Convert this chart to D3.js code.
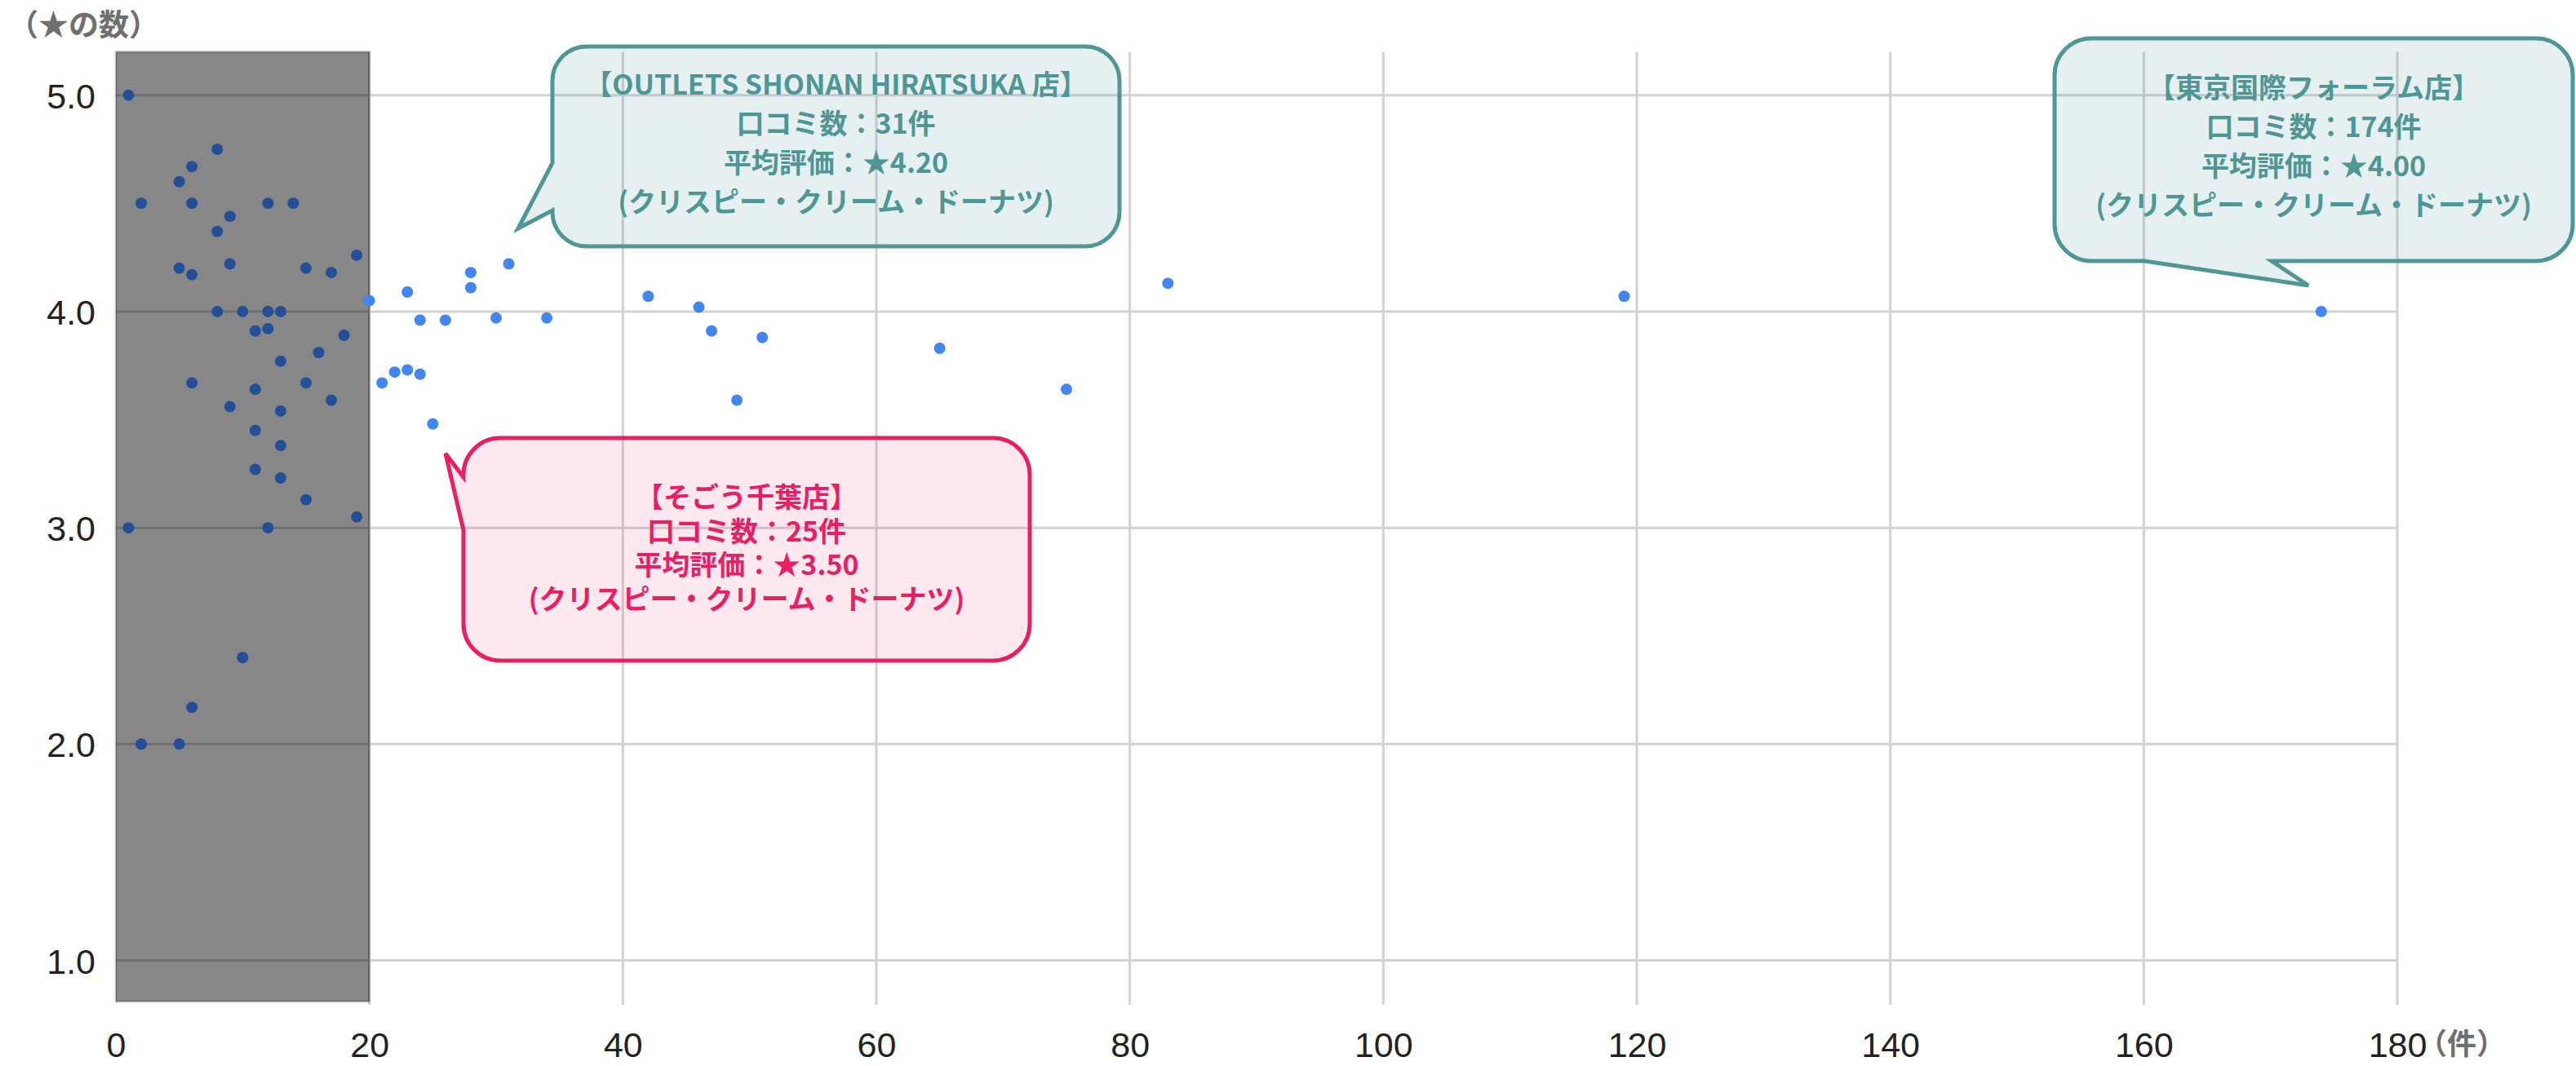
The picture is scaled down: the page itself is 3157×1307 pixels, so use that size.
<!DOCTYPE html>
<html lang="ja">
<head>
    <meta charset="utf-8">
    <title>口コミ数と平均評価</title>
    <style>
        body {
            margin: 0;
            padding: 0;
            background: #fff;
        }

        svg {
            display: block;
        }

        .axis text {
            font-family: "Liberation Sans", Arial, sans-serif;
            fill: #222;
        }

        .unit {
            font-family: "Noto Sans CJK JP", sans-serif;
            font-weight: 700;
            fill: #6f6f6f;
        }

        .callout text {
            font-family: "Noto Sans CJK JP", sans-serif;
            font-weight: 700;
            font-size: 34px;
            text-anchor: middle;
        }
    </style>
    <script src="https://d3js.org/d3.v7.min.js"></script>
</head>
<body>
    <div id="chart"></div>

    <script>
        // 口コミ数（件）
        const reviewCounts = [
            1, 8, 6, 5, 2, 6, 12, 14, 9, 8, 19, 9, 5, 15, 17, 6,
            8, 10, 12, 13, 12, 11, 18, 16, 13, 6, 15, 11, 17, 9, 13,
            11, 13, 11, 13, 15, 19, 1, 12, 10, 6, 2, 5,
            20, 21, 22, 23, 23, 24, 24, 25, 26, 28, 28, 30, 31, 34,
            42, 46, 47, 49, 51, 65, 75, 83, 119, 174
        ];
        // 平均評価（★の数）
        const avgRatings = [
            5.0, 4.75, 4.67, 4.6, 4.5, 4.5, 4.5, 4.5, 4.44, 4.37, 4.26, 4.22, 4.2, 4.2, 4.18, 4.17,
            4.0, 4.0, 4.0, 4.0, 3.92, 3.91, 3.89, 3.81, 3.77, 3.67, 3.67, 3.64, 3.59, 3.56, 3.54,
            3.45, 3.38, 3.27, 3.23, 3.13, 3.05, 3.0, 3.0, 2.4, 2.17, 2.0, 2.0,
            4.05, 3.67, 3.72, 3.73, 4.09, 3.96, 3.71, 3.48, 3.96, 4.18, 4.11, 3.97, 4.22, 3.97,
            4.07, 4.02, 3.91, 3.59, 3.88, 3.83, 3.64, 4.13, 4.07, 4.0
        ];

        const xTicks = [0, 20, 40, 60, 80, 100, 120, 140, 160, 180];
        const yTicks = [1, 2, 3, 4, 5];
        const shadedMax = 20;   // 口コミ20件未満を網掛け

        const calloutTitles = ["【OUTLETS SHONAN HIRATSUKA 店】", "【東京国際フォーラム店】", "【そごう千葉店】"];
        const calloutCounts = [31, 174, 25];
        const calloutRatings = ["4.20", "4.00", "3.50"];
        const calloutBrand = "(クリスピー・クリーム・ドーナツ)";

        const width = 3157;
        const height = 1307;

        const x = d3.scaleLinear().domain([0, 180]).range([142, 2938]);
        const y = d3.scaleLinear().domain([0.81, 5.2]).range([1228, 63.6]);

        const svg = d3.select("#chart")
            .append("svg")
            .attr("width", width)
            .attr("height", height);

        // grid
        svg.append("g")
            .selectAll("line")
            .data(xTicks.slice(1))
            .enter()
            .append("line")
            .attr("x1", d => x(d)).attr("x2", d => x(d))
            .attr("y1", y.range()[1]).attr("y2", y.range()[0] + 4)
            .style("stroke", "#d2d2d2")
            .style("stroke-width", 3);

        svg.append("g")
            .selectAll("line")
            .data(yTicks)
            .enter()
            .append("line")
            .attr("x1", x(0)).attr("x2", x(180))
            .attr("y1", d => y(d)).attr("y2", d => y(d))
            .style("stroke", "#d2d2d2")
            .style("stroke-width", 3);

        // shaded band for few reviews
        svg.append("rect")
            .attr("x", x(0))
            .attr("y", y.range()[1])
            .attr("width", x(shadedMax) - x(0))
            .attr("height", y.range()[0] - y.range()[1])
            .style("fill", "rgba(0,0,0,0.47)")
            .style("stroke", "rgba(0,0,0,0.2)")
            .style("stroke-width", 3);

        // axes
        const xAxis = svg.append("g")
            .attr("class", "axis")
            .attr("transform", "translate(0,1258)")
            .call(d3.axisBottom(x).tickValues(xTicks).tickSize(0).tickPadding(0));
        xAxis.select(".domain").remove();
        xAxis.selectAll("text").style("font-size", "43px").attr("dy", "0.88em");

        const yAxis = svg.append("g")
            .attr("class", "axis")
            .attr("transform", "translate(117,0)")
            .call(d3.axisLeft(y).tickValues(yTicks).tickSize(0).tickPadding(0).tickFormat(d3.format(".1f")));
        yAxis.select(".domain").remove();
        yAxis.selectAll("text").style("font-size", "43px").attr("dy", "0.36em");

        svg.append("text")
            .attr("class", "unit")
            .attr("x", 10)
            .attr("y", 44)
            .style("font-size", "37px")
            .text("（★の数）");

        svg.append("text")
            .attr("class", "unit")
            .attr("x", 2963)
            .attr("y", 1293)
            .style("font-size", "36px")
            .text("（件）");

        // points
        const points = reviewCounts.map((c, i) => ({count: c, rating: avgRatings[i]}));
        svg.append("g")
            .selectAll("circle")
            .data(points)
            .enter()
            .append("circle")
            .attr("cx", d => x(d.count))
            .attr("cy", d => y(d.rating))
            .attr("r", 7)
            .style("fill", d => d.count < shadedMax ? "#224f98" : "#4285f4");

        // speech bubbles
        const bubbles = [
            {x: 677, y: 57, w: 695, h: 245, r: 42, side: "left", b1: 200, b2: 258, tx: 635, ty: 280,
             color: "#4f9696", fill: "rgba(79,150,150,0.14)", first: 59, lh: 48},
            {x: 2518, y: 47, w: 635, h: 273, r: 45, side: "bottom", b1: 2628, b2: 2784, tx: 2829, ty: 350,
             color: "#4f9696", fill: "rgba(79,150,150,0.14)", first: 73, lh: 48},
            {x: 568, y: 537, w: 694, h: 273, r: 45, side: "left", b1: 585, b2: 650, tx: 546, ty: 556,
             color: "#e91e63", fill: "rgba(233,30,99,0.1)", first: 85, lh: 41.5}
        ];

        function bubblePath(b) {
            const {x: bx, y: by, w, h, r} = b;
            let p = `M${bx + r},${by}H${bx + w - r}A${r},${r} 0 0 1 ${bx + w},${by + r}`
                + `V${by + h - r}A${r},${r} 0 0 1 ${bx + w - r},${by + h}`;
            if (b.side === "bottom") p += `H${b.b2}L${b.tx},${b.ty}L${b.b1},${by + h}`;
            p += `H${bx + r}A${r},${r} 0 0 1 ${bx},${by + h - r}`;
            if (b.side === "left") p += `V${b.b2}L${b.tx},${b.ty}L${bx},${b.b1}`;
            p += `V${by + r}A${r},${r} 0 0 1 ${bx + r},${by}Z`;
            return p;
        }

        bubbles.forEach((b, i) => {
            const g = svg.append("g").attr("class", "callout");
            g.append("path")
                .attr("d", bubblePath(b))
                .style("fill", b.fill)
                .style("stroke", b.color)
                .style("stroke-width", 5);

            const lines = [
                calloutTitles[i],
                `口コミ数：${calloutCounts[i]}件`,
                `平均評価：★${calloutRatings[i]}`,
                calloutBrand
            ];
            g.selectAll("text")
                .data(lines)
                .enter()
                .append("text")
                .attr("x", b.x + b.w / 2)
                .attr("y", (d, j) => b.y + b.first + j * b.lh)
                .style("fill", b.color)
                .text(d => d);
        });
    </script>
</body>
</html>
